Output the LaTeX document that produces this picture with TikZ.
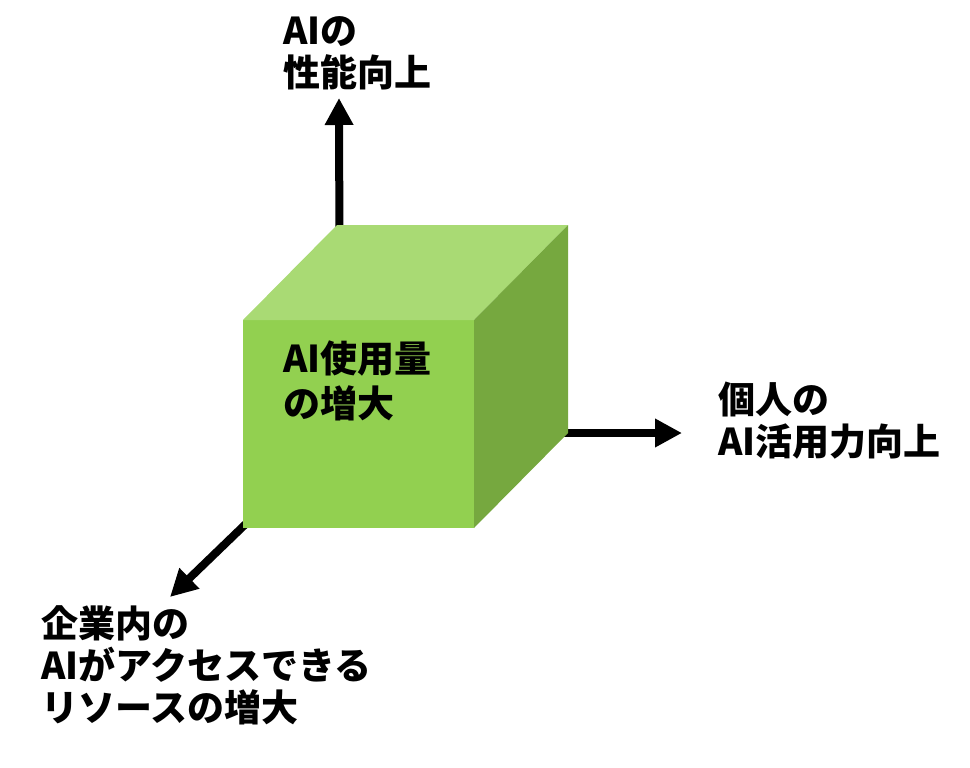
\documentclass[tikz,border=0pt]{standalone}
\usepackage{fontspec}
\setmainfont{Noto Sans CJK JP}
\usetikzlibrary{arrows.meta,calc}
\definecolor{cubefront}{HTML}{92D050}
\definecolor{cubetop}{HTML}{A9DA74}
\definecolor{cubeside}{HTML}{76A83F}
\tikzset{
  axis/.style={line width=8pt, -{Triangle[length=27pt,width=27pt]}},
  axislabel/.style={font=\bfseries\fontsize{37}{42}\selectfont, inner sep=0pt, align=left, anchor=base west},
}
\begin{document}
\begin{tikzpicture}[x=1pt, y=-1pt]
  \useasboundingbox (0,0) rectangle (970,768);
  \def\W{231} % front width
  \def\H{208} % front height
  \def\dx{94} % depth offset
  \def\dy{-95}

  % --- origin of the axes (hidden back corner) and arrow tips
  \coordinate (origin) at (340,433);
  \coordinate (uptip) at (339,98);
  \coordinate (righttip) at (682,433);
  \coordinate (downtip) at (170,597);

  % --- axes
  \draw[axis] (origin) -- (uptip);
  \draw[axis] (origin) -- (righttip);
  \draw[axis] (origin) -- (downtip);

  % --- cube
  \coordinate (fnw) at (243,320);
  \fill[cubefront] (fnw) rectangle ++(\W,\H);
  \fill[cubetop] (fnw) -- ++(\dx,\dy) -- ++(\W,0) -- ++(-\dx,-\dy) -- cycle;
  \fill[cubeside] ($(fnw)+(\W,0)$) -- ++(\dx,\dy) -- ++(0,\H) -- ++(-\dx,-\dy) -- cycle;

  % --- labels (anchored at the baseline of their last line)
  \node[axislabel] (perf) at (283,87) {AIの\\性能向上};
  \node[axislabel] (skill) at (718,455) {個人の\\AI活用力向上};
  \node[axislabel] (res) at (41,721) {企業内の\\AIがアクセスできる\\リソースの増大};
  \node[axislabel, font=\bfseries\fontsize{37}{45}\selectfont] (usage) at (283,417) {AI使用量\\の増大};
\end{tikzpicture}
\end{document}
